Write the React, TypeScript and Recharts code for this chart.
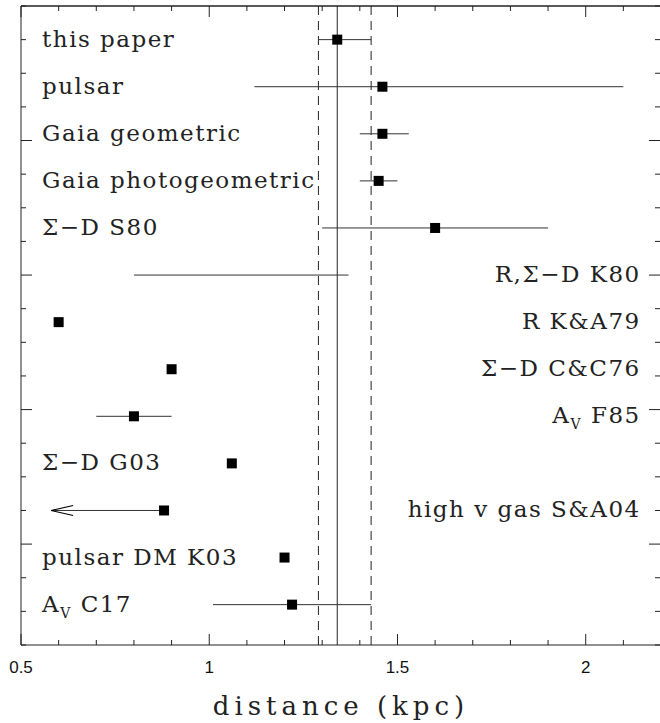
import { ScatterChart, Scatter, XAxis, YAxis, ErrorBar, ReferenceLine } from 'recharts';

// one row per distance estimate, top to bottom
const LABELS = [
  'this paper', 'pulsar', 'Gaia geometric', 'Gaia photogeometric', 'Σ−D S80',
  'R,Σ−D K80', 'R K&A79', 'Σ−D C&C76', 'A_V F85', 'Σ−D G03',
  'high v gas S&A04', 'pulsar DM K03', 'A_V C17',
];
const LABEL_SIDE = ['left', 'left', 'left', 'left', 'left', 'right', 'right', 'right', 'right', 'left', 'right', 'left', 'left'];
const ROW_Y = [18, 16.6, 15.2, 13.8, 12.4, 11, 9.6, 8.2, 6.8, 5.4, 4, 2.6, 1.2];
const DIST = [1.34, 1.46, 1.46, 1.45, 1.6, null, 0.6, 0.9, 0.8, 1.06, 0.88, 1.2, 1.22];
const LOW = [1.29, 1.12, 1.4, 1.4, 1.3, 0.8, null, null, 0.7, null, 0.58, null, 1.01];
const HIGH = [1.43, 2.1, 1.53, 1.5, 1.9, 1.37, null, null, 0.9, null, 0.88, null, 1.43];
const UPPER_LIMIT = [false, false, false, false, false, false, false, false, false, false, true, false, false];

const BEST = 1.34;
const BEST_RANGE = [1.29, 1.43];

const X_TICKS = [0.5, 0.6, 0.7, 0.8, 0.9, 1, 1.1, 1.2, 1.3, 1.4, 1.5, 1.6, 1.7, 1.8, 1.9, 2, 2.1, 2.2];
const Y_TICKS = [0, 1, 2, 3, 4, 5, 6, 7, 8, 9, 10, 11, 12, 13, 14, 15, 16, 17, 18, 19];
const Y_MAJOR = [3, 7, 11, 15];
const X_DOMAIN = [0.5, 2.2];
const Y_DOMAIN = [0, 19];

const INK = '#222';
const SERIF = '"DejaVu Serif", serif';
const LABEL_LEFT_X = 0.556;
const LABEL_RIGHT_X = 2.146;

// frame edges in px (margins + axis sizes below)
const W = 660;
const H = 723;
const FRAME = { left: 21, top: 6, right: 661, bottom: 645 };

const markers = DIST.map((d, i) => (d == null ? null : { x: d, y: ROW_Y[i] })).filter(Boolean);
const bars = LOW.map((lo, i) => {
  if (lo == null || HIGH[i] == null) return null;
  const mid = (lo + HIGH[i]) / 2;
  return { x: mid, y: ROW_Y[i], err: [mid - lo, HIGH[i] - mid] };
}).filter(Boolean);
const arrows = LOW.map((lo, i) => (UPPER_LIMIT[i] ? { x: lo, y: ROW_Y[i] } : null)).filter(Boolean);
const labels = LABELS.map((t, i) => ({
  x: LABEL_SIDE[i] === 'left' ? LABEL_LEFT_X : LABEL_RIGHT_X,
  y: ROW_Y[i],
  text: t,
  side: LABEL_SIDE[i],
}));
// tick marks along the top edge of the frame
const topTicks = X_TICKS.map((v) => ({ x: v, y: Y_DOMAIN[1] }));

const isMajorX = (v: number) => Math.abs(v * 2 - Math.round(v * 2)) < 1e-6;

function BottomTick({ x, payload }: any) {
  const v = payload.value;
  const major = isMajorX(v);
  const y = FRAME.bottom;
  return (
    <g>
      <line x1={x} x2={x} y1={y} y2={y - (major ? 11 : 5)} stroke={INK} />
      {major && (
        <text x={x} y={y + 28} textAnchor="middle" fontFamily="Liberation Sans, Arial, sans-serif" fontSize={17} fill="#111">
          {String(v)}
        </text>
      )}
    </g>
  );
}

function TopTick({ cx, cy, payload }: any) {
  const major = isMajorX(payload.x);
  return <line x1={cx} x2={cx} y1={cy} y2={cy + (major ? 11 : 5)} stroke={INK} />;
}

function LeftTick({ y, payload }: any) {
  const major = Y_MAJOR.includes(payload.value);
  const x = FRAME.left;
  return <line x1={x} x2={x + (major ? 11 : 5)} y1={y} y2={y} stroke={INK} />;
}

function RightTick({ y, payload }: any) {
  const major = Y_MAJOR.includes(payload.value);
  const x = FRAME.right;
  return <line x1={x} x2={x - (major ? 12 : 6)} y1={y} y2={y} stroke={INK} />;
}

function Square({ cx, cy }: any) {
  return <rect x={cx - 5} y={cy - 5} width={10} height={10} fill="#000" />;
}

function ArrowHead({ cx, cy }: any) {
  return (
    <path d={`M${cx + 22},${cy - 5} L${cx},${cy} L${cx + 22},${cy + 5}`} fill="none" stroke="#000" strokeWidth={1.2} />
  );
}

function RowLabel({ cx, cy, payload }: any) {
  const text: string = payload.text;
  const anchor = payload.side === 'left' ? 'start' : 'end';
  const common = {
    x: cx,
    y: cy + 7,
    textAnchor: anchor,
    fontFamily: SERIF,
    fontSize: 23,
    fill: '#222',
    style: { letterSpacing: 1.5 },
  } as any;
  if (text.startsWith('A_V')) {
    return (
      <text {...common}>
        <tspan>A</tspan>
        <tspan fontSize={14} dy={6}>V</tspan>
        <tspan dy={-6}>{text.slice(3)}</tspan>
      </text>
    );
  }
  return <text {...common}>{text}</text>;
}

export default function App() {
  return (
    <div style={{ position: 'absolute', left: 0, top: 0, background: '#fff' }}>
      <ScatterChart
        width={W}
        height={H}
        margin={{ top: FRAME.top, right: W - FRAME.right - 1, left: FRAME.left - 1, bottom: 0 }}
      >
        <XAxis
          xAxisId={0}
          type="number"
          dataKey="x"
          domain={X_DOMAIN}
          ticks={X_TICKS}
          interval={0}
          tickLine={false}
          axisLine={{ stroke: INK }}
          tick={<BottomTick />}
          height={H - FRAME.bottom}
          label={{
            value: 'distance (kpc)',
            position: 'insideBottom',
            offset: 8,
            style: { fontFamily: SERIF, fontSize: 26, fill: '#222', letterSpacing: 5 },
          }}
        />
        <YAxis
          yAxisId={0}
          type="number"
          dataKey="y"
          domain={Y_DOMAIN}
          ticks={Y_TICKS}
          interval={0}
          tickLine={false}
          axisLine={{ stroke: INK }}
          tick={<LeftTick />}
          width={1}
        />
        <YAxis
          yAxisId="right"
          orientation="right"
          type="number"
          dataKey="y"
          domain={Y_DOMAIN}
          ticks={Y_TICKS}
          interval={0}
          tickLine={false}
          axisLine={{ stroke: INK }}
          tick={<RightTick />}
          width={1}
        />
        <ReferenceLine y={Y_DOMAIN[1]} stroke={INK} strokeWidth={1.5} ifOverflow="visible" />
        <ReferenceLine x={BEST} stroke={INK} strokeWidth={1} />
        <ReferenceLine x={BEST_RANGE[0]} stroke={INK} strokeWidth={1} strokeDasharray="9 6" />
        <ReferenceLine x={BEST_RANGE[1]} stroke={INK} strokeWidth={1} strokeDasharray="9 6" />
        <Scatter data={topTicks} shape={<TopTick />} isAnimationActive={false} />
        <Scatter data={bars} shape={() => <g />} isAnimationActive={false}>
          <ErrorBar dataKey="err" direction="x" width={0} stroke="#333" strokeWidth={1} isAnimationActive={false} />
        </Scatter>
        <Scatter data={arrows} shape={<ArrowHead />} isAnimationActive={false} />
        <Scatter data={markers} shape={<Square />} isAnimationActive={false} />
        <Scatter data={labels} yAxisId="right" shape={<RowLabel />} isAnimationActive={false} />
      </ScatterChart>
    </div>
  );
}
